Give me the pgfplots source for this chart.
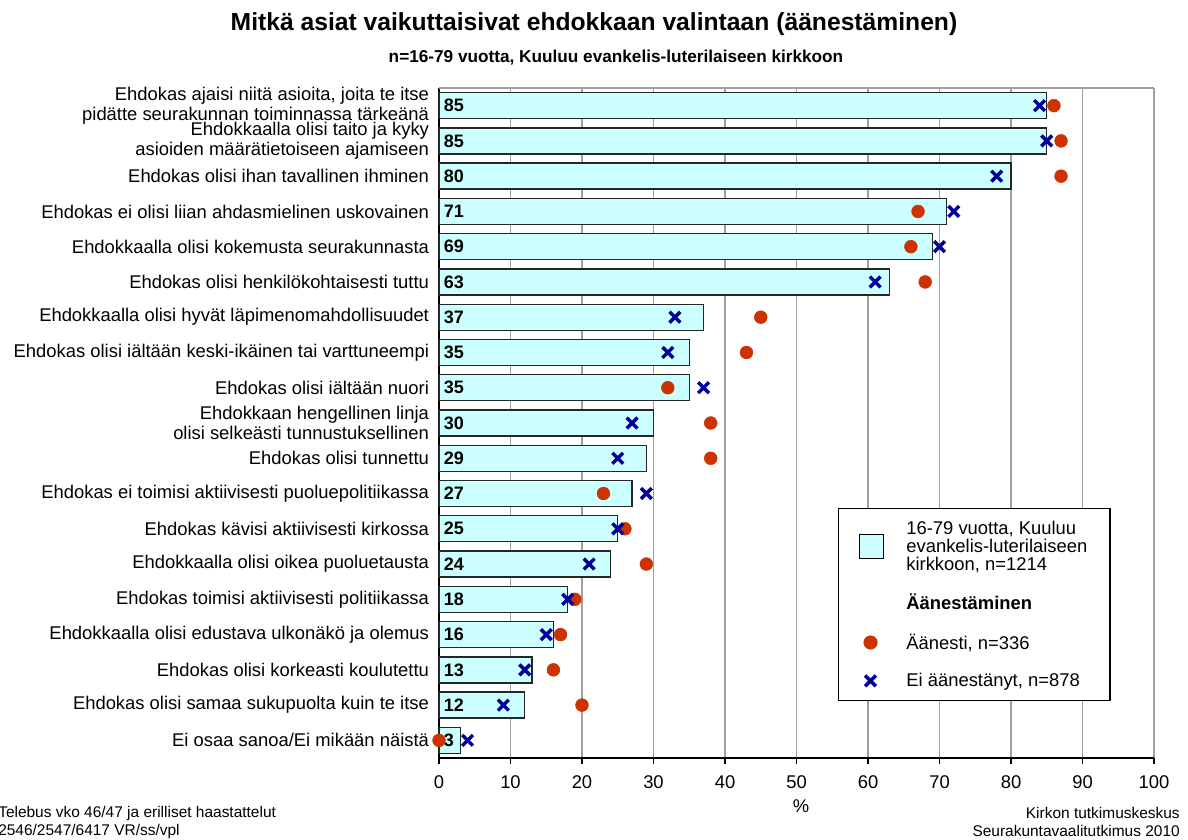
\documentclass[border=0pt]{standalone}
\usepackage{fontspec}
\setmainfont{Liberation Sans}
\usepackage{pgfplots}
\pgfplotsset{compat=1.18}
\usepackage{pgfplotstable}

\definecolor{barfill}{RGB}{204,255,255}
\definecolor{votered}{RGB}{204,51,0}
\definecolor{noblue}{RGB}{0,0,153}
\definecolor{gridgray}{RGB}{160,160,160}

% idx: row from top, bar: all members, vote: voted, novote: did not vote
\pgfplotstableread{
idx bar vote novote
0  85 86 84
1  85 87 85
2  80 87 78
3  71 67 72
4  69 66 70
5  63 68 61
6  37 45 33
7  35 43 32
8  35 32 37
9  30 38 27
10 29 38 25
11 27 23 29
12 25 26 25
13 24 29 21
14 18 19 18
15 16 17 15
16 13 16 12
17 12 20 9
18 3  0  4
}\datatable

\begin{document}
\begin{tikzpicture}
\begin{axis}[
  at={(329.25pt,60.75pt)}, anchor=south west,
  scale only axis, width=536.25pt, height=502.5pt,
  xmin=0, xmax=100, ymin=-0.5, ymax=18.5,
  y dir=reverse,
  clip=false,
  axis lines=left,
  axis line style={-, black, line width=1.2pt},
  xtick={0,10,...,100},
  ytick={0,...,18},
  yticklabels={
    {Ehdokas ajaisi niitä asioita, joita te itse\\pidätte seurakunnan toiminnassa tärkeänä},
    {Ehdokkaalla olisi taito ja kyky\\asioiden määrätietoiseen ajamiseen},
    {Ehdokas olisi ihan tavallinen ihminen},
    {Ehdokas ei olisi liian ahdasmielinen uskovainen},
    {Ehdokkaalla olisi kokemusta seurakunnasta},
    {Ehdokas olisi henkilökohtaisesti tuttu},
    {Ehdokkaalla olisi hyvät läpimenomahdollisuudet},
    {Ehdokas olisi iältään keski-ikäinen tai varttuneempi},
    {Ehdokas olisi iältään nuori},
    {Ehdokkaan hengellinen linja\\olisi selkeästi tunnustuksellinen},
    {Ehdokas olisi tunnettu},
    {Ehdokas ei toimisi aktiivisesti puoluepolitiikassa},
    {Ehdokas kävisi aktiivisesti kirkossa},
    {Ehdokkaalla olisi oikea puoluetausta},
    {Ehdokas toimisi aktiivisesti politiikassa},
    {Ehdokkaalla olisi edustava ulkonäkö ja olemus},
    {Ehdokas olisi korkeasti koulutettu},
    {Ehdokas olisi samaa sukupuolta kuin te itse},
    {Ei osaa sanoa/Ei mikään näistä}},
  xmajorgrids,
  grid style={gridgray, line width=0.8pt},
  tick align=outside,
  major tick length=4.5pt,
  x tick style={black, line width=1pt},
  y tick style={draw=none},
  /pgf/number format/assume math mode=true,
  ticklabel style={font=\fontsize{13.8}{15}\selectfont},
  yticklabel style={align=right, xshift=0.5pt},
  xticklabel style={yshift=-5pt},
  legend style={at={(axis description cs:0.558,0.373)}, anchor=north west,
    draw=black, line width=1pt, fill=white,
    font=\fontsize{13.8}{13.5}\selectfont,
    cells={anchor=west, align=left},
    row sep=12.5pt, column sep=15pt,
    inner xsep=15pt, inner ysep=7pt},
  after end axis/.code={\draw[gridgray, line width=0.8pt] (axis description cs:0,1) -- (axis description cs:1,1);},
]
\addplot[xbar, bar width=19.5pt, fill=barfill, draw=black!85, line width=1pt, forget plot]
  table[x=bar, y=idx] {\datatable};
\addplot[only marks, mark=none, forget plot,
  point meta=explicit symbolic,
  nodes near coords={\textbf{\pgfplotspointmeta}},
  every node near coord/.style={anchor=west, inner sep=0pt, xshift=3.5pt,
    font=\fontsize{13.5}{15}\selectfont}]
  table[x expr=0, y=idx, meta=bar] {\datatable};
\addplot[only marks, mark=*, mark size=4.8pt, mark options={fill=votered, draw=votered}, forget plot]
  table[x=vote, y=idx] {\datatable};
\addplot[only marks, mark=x, mark size=5.7pt, mark options={draw=noblue, line width=2.6pt}, forget plot]
  table[x=novote, y=idx] {\datatable};

\addlegendimage{legend image code/.code={\draw[fill=barfill, draw=black, line width=0.8pt] (0pt,-9pt) rectangle (18pt,9pt);}}
\addlegendentry{16-79 vuotta, Kuuluu\\evankelis-luterilaiseen\\kirkkoon, n=1214}
\addlegendimage{empty legend}
\addlegendentry{\textbf{Äänestäminen}}
\addlegendimage{only marks, mark=*, mark size=4.8pt, mark options={fill=votered, draw=votered}}
\addlegendentry{Äänesti, n=336}
\addlegendimage{only marks, mark=x, mark size=5.7pt, mark options={draw=noblue, line width=2.6pt}}
\addlegendentry{Ei äänestänyt, n=878}
\end{axis}

\node[font=\fontsize{18.5}{22}\selectfont\bfseries] at (445.5pt,611pt)
  {Mitkä asiat vaikuttaisivat ehdokkaan valintaan (äänestäminen)};
\node[font=\fontsize{12.9}{15}\selectfont\bfseries] at (462pt,586pt)
  {n=16-79 vuotta, Kuuluu evankelis-luterilaiseen kirkkoon};
\node[font=\fontsize{13.8}{15}\selectfont] at (600.75pt,24.5pt) {\%};
\node[anchor=west, inner sep=0pt, font=\fontsize{11.6}{13}\selectfont] at (-1.5pt,19.25pt)
  {Telebus vko 46/47 ja erilliset haastattelut};
\node[anchor=west, inner sep=0pt, font=\fontsize{11.6}{13}\selectfont] at (-1.5pt,6pt)
  {2546/2547/6417 VR/ss/vpl};
\node[anchor=east, inner sep=0pt, font=\fontsize{11.6}{13}\selectfont] at (885pt,19.25pt)
  {Kirkon tutkimuskeskus};
\node[anchor=east, inner sep=0pt, font=\fontsize{11.6}{13}\selectfont] at (885pt,6pt)
  {Seurakuntavaalitutkimus 2010};

\pgfresetboundingbox
\path (0pt,0pt) rectangle (891pt,629.25pt);
\end{tikzpicture}
\end{document}
